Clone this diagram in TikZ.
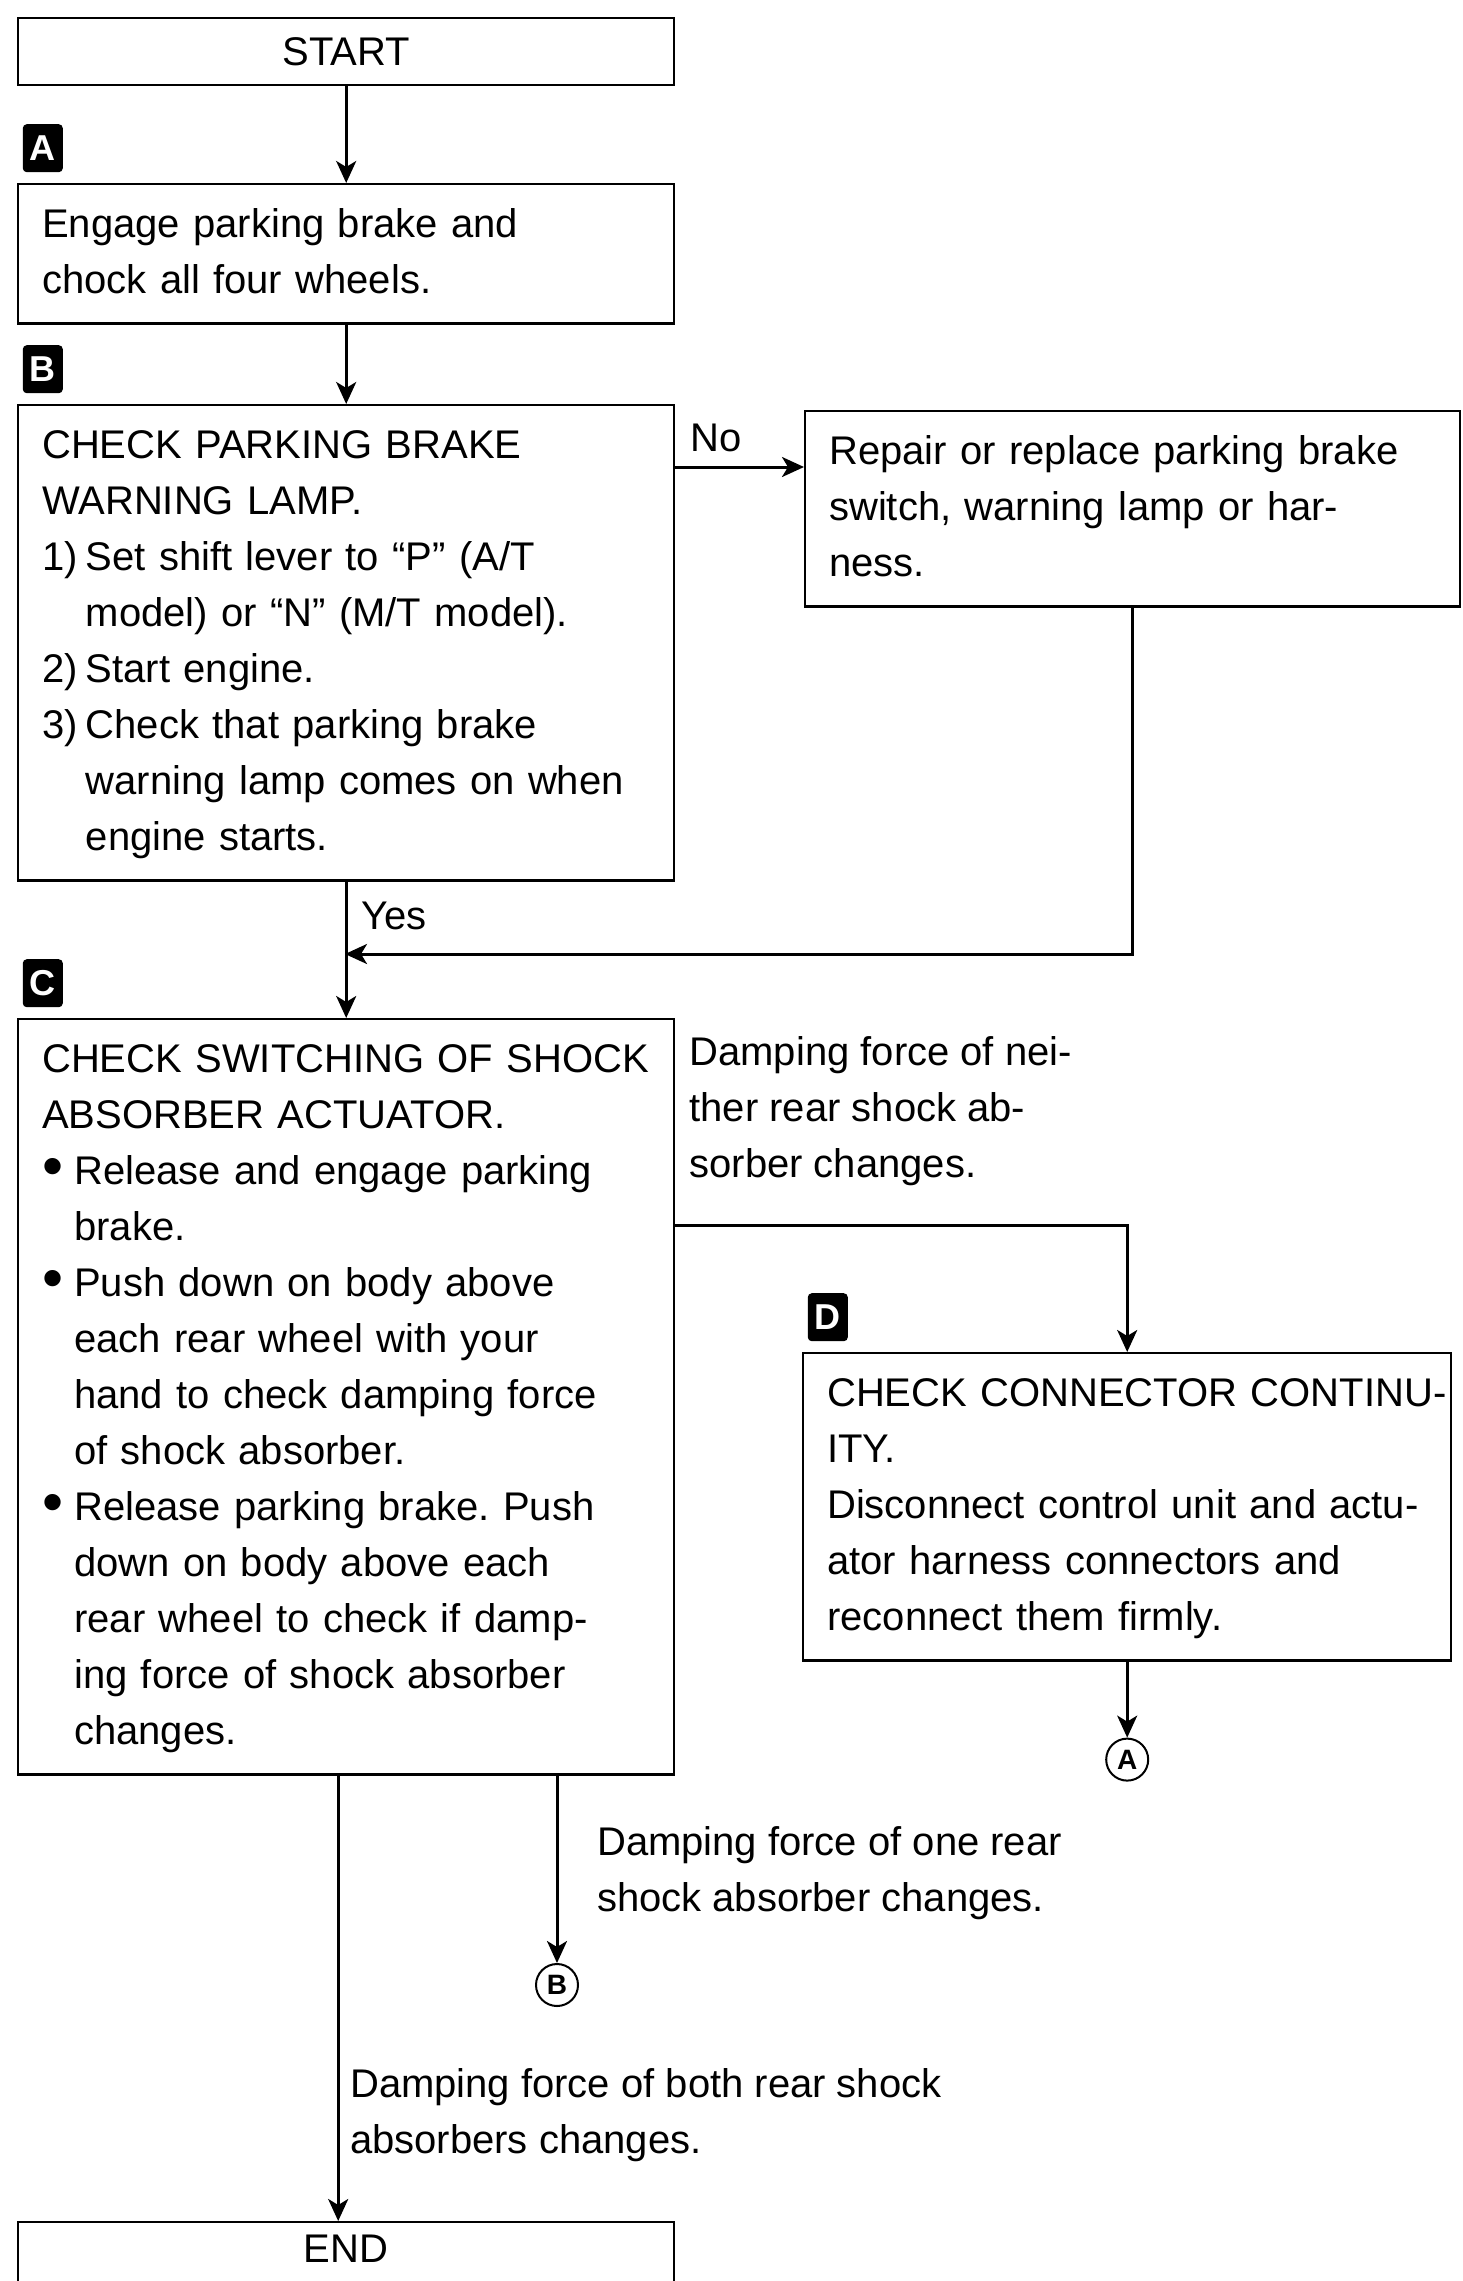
\documentclass[tikz,border=0pt]{standalone}
\usepackage{fontspec}
\setmainfont{Liberation Sans}
\usetikzlibrary{positioning,arrows.meta}

\tikzstyle{box} = [draw, line width=0.6pt, anchor=north west, align=left, inner xsep=6pt, inner ysep=3.4pt, font=\fontsize{10}{14}\selectfont, execute at begin node=\strut, execute at end node=\strut]
\tikzstyle{term} = [draw, line width=0.6pt, anchor=north west, minimum width=164pt, minimum height=16.75pt, inner sep=0pt, font=\fontsize{10}{14}\selectfont]
\tikzstyle{note} = [anchor=north west, align=left, font=\fontsize{10}{14}\selectfont, execute at begin node=\strut, execute at end node=\strut]
\tikzstyle{lbl} = [font=\fontsize{10}{14}\selectfont]
\tikzstyle{badge} = [fill=black, text=white, anchor=south west, minimum width=10pt, minimum height=12pt, inner sep=0pt, rounded corners=1pt, font=\bfseries\fontsize{9}{9}\selectfont]
\tikzstyle{conn} = [circle, draw, line width=0.5pt, minimum size=10.5pt, inner sep=0pt, font=\bfseries\fontsize{7}{7}\selectfont]
\tikzstyle{arr} = [line width=0.75pt, -{Stealth[length=5.5pt,width=5pt,inset=1.5pt]}]

\newcommand{\stepnr}[1]{\makebox[1.09em][l]{#1}}
\newcommand{\stepind}{\hspace*{1.09em}}
\newcommand{\dotbul}{\makebox[0.8em][l]{\raisebox{-0.7pt}{\fontsize{15}{15}\selectfont\textbullet}}}
\newcommand{\dotind}{\hspace*{0.8em}}
\frenchspacing

\begin{document}
\begin{tikzpicture}[x=0.25pt, y=-0.25pt]
\useasboundingbox (0,0) rectangle (1463,2281);
\clip (0,0) rectangle (1463,2281);
%begin start
\node[term] (start) at (17,17) {START};
%end start
%begin block A
\node[box, text width=152pt] (engage) at (17,183) {Engage parking brake and\\ chock all four wheels.};
\node[badge] (bA) at ([xshift=1.25pt,yshift=2.5pt]engage.north west) {A};
%end block A
%begin block B
\node[box, text width=152pt] (chkpb) at (17,404) {CHECK PARKING BRAKE\\ WARNING LAMP.\\
    \stepnr{1)}Set shift lever to ``P'' (A/T\\ \stepind model) or ``N'' (M/T model).\\
    \stepnr{2)}Start engine.\\
    \stepnr{3)}Check that parking brake\\ \stepind warning lamp comes on when\\ \stepind engine starts.};
\node[badge] (bB) at ([xshift=1.25pt,yshift=2.5pt]chkpb.north west) {B};
\node[box, text width=151.75pt] (repair) at (804,410) {Repair or replace parking brake\\ switch, warning lamp or har-\\ ness.};
%end block B
%begin block C
\node[box, text width=152pt] (swt) at (17,1018) {CHECK SWITCHING OF SHOCK\\ ABSORBER ACTUATOR.\\
    \dotbul Release and engage parking\\ \dotind brake.\\
    \dotbul Push down on body above\\ \dotind each rear wheel with your\\ \dotind hand to check damping force\\ \dotind of shock absorber.\\
    \dotbul Release parking brake. Push\\ \dotind down on body above each\\ \dotind rear wheel to check if damp-\\ \dotind ing force of shock absorber\\ \dotind changes.};
\node[badge] (bC) at ([xshift=1.25pt,yshift=2.5pt]swt.north west) {C};
\node[note] (neither) at ([yshift=-1pt]swt.north east) {Damping force of nei-\\ ther rear shock ab-\\ sorber changes.};
\node[note] (one) at (583,1812) {Damping force of one rear\\ shock absorber changes.};
\node[note] (both) at (336,2054) {Damping force of both rear shock\\ absorbers changes.};
%end block C
%begin block D
\node[box, text width=150pt] (chkcon) at (802,1352) {\mbox{CHECK CONNECTOR CONTINU-}\\ ITY.\\
    Disconnect control unit and actu-\\ ator harness connectors and\\ reconnect them firmly.};
\node[badge] (bD) at ([xshift=1.25pt,yshift=2.5pt]chkcon.north west) {D};
%end block D
%begin end
\node[term, minimum height=0pt, text height=10pt, text depth=8pt] (fin) at (17,2221) {END};
%end end
%begin exits
\node[conn, below=19pt of chkcon] (cA) {A};
\node[conn] (cB) at (557,1985) {B};
%end exits
\coordinate (mrg) at (345,954);
%begin connectors
\draw[arr] (start) -- (engage);
\draw[arr] (engage) -- (chkpb);
\draw[arr] (chkpb) -- (swt) node[lbl, pos=0.25, anchor=west] (yes) {Yes};
\draw[arr] ([yshift=-15.75pt]chkpb.north east) -- ([yshift=-14.25pt]repair.north west) node[lbl, pos=0, anchor=south west] (no) {No};
\draw[arr] (repair.south) |- (mrg);
\draw[arr] ([yshift=-51.75pt]swt.north east) -| (chkcon.north);
\draw[arr] (chkcon) -- (cA);
\draw[arr] (cB |- swt.south) -- (cB);
\draw[arr] ([xshift=-2pt]swt.south) -- ([xshift=-2pt]fin.north);
%end connectors
\end{tikzpicture}
\end{document}
